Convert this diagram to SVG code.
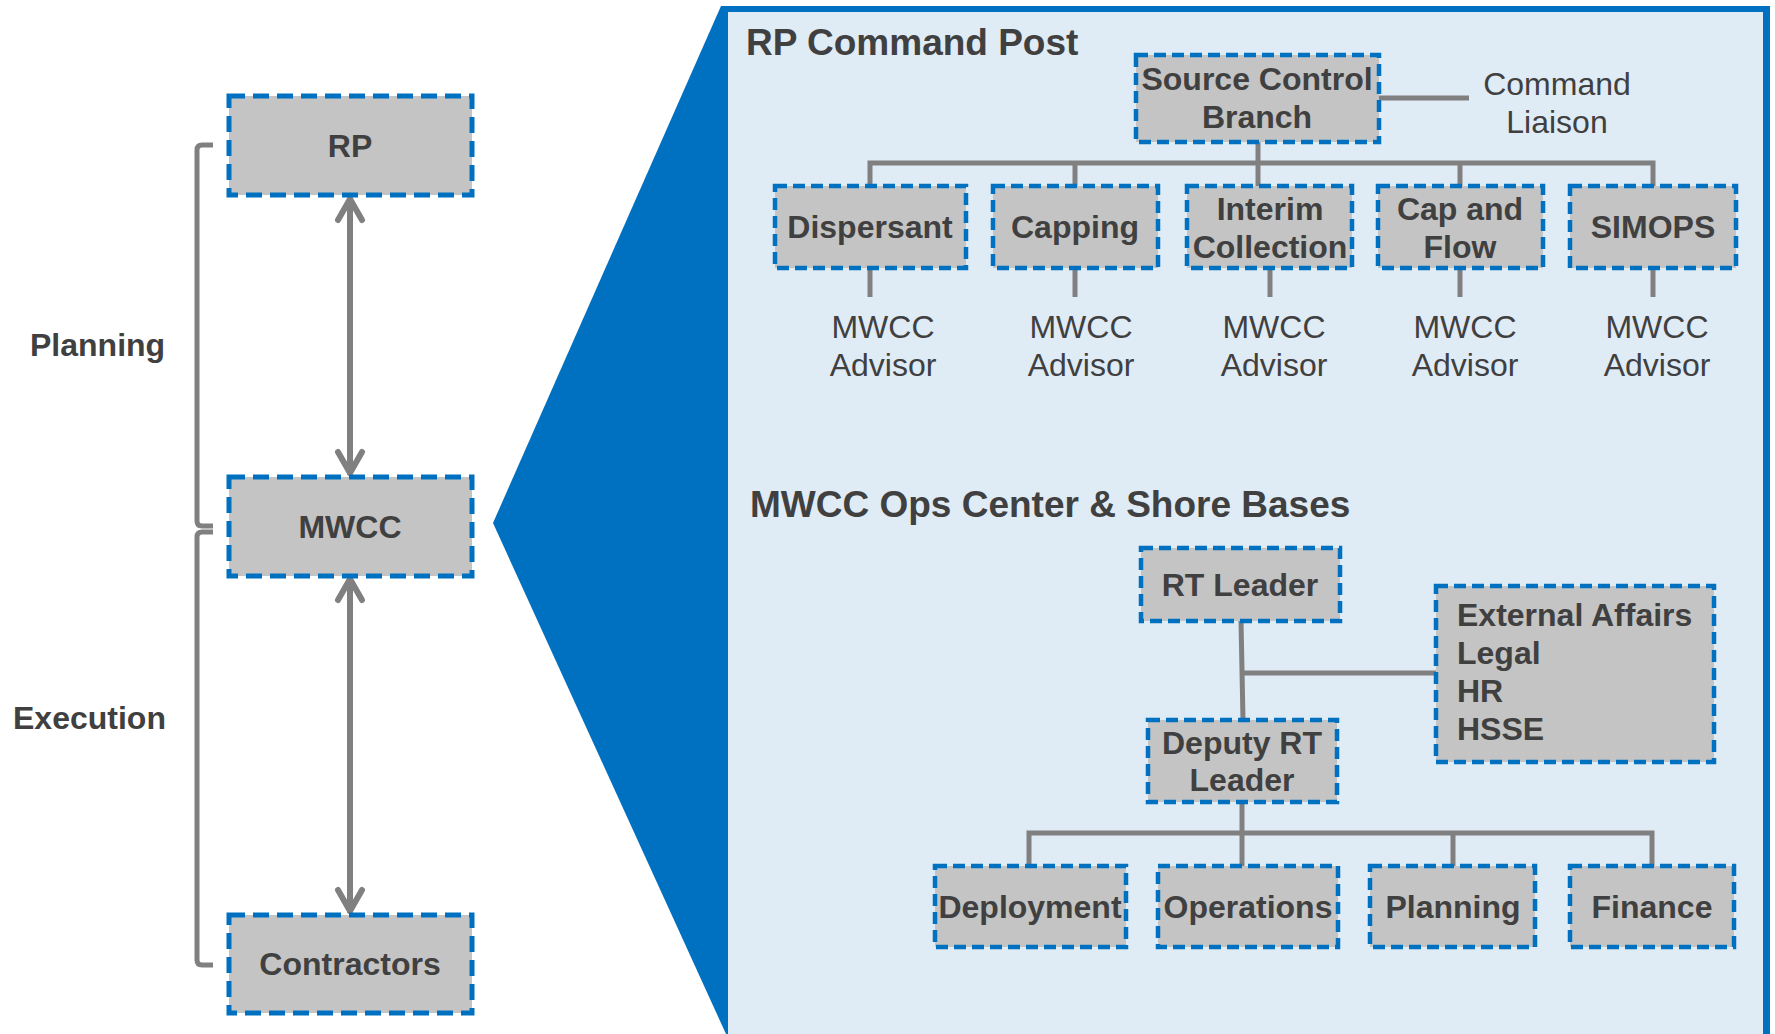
<svg xmlns="http://www.w3.org/2000/svg" width="1775" height="1034" viewBox="0 0 1775 1034">
<style>
.box{fill:#C4C4C4;stroke:#0070C0;stroke-width:4.5;stroke-dasharray:12 6}
.boxL{fill:#C4C4C4;stroke:#0070C0;stroke-width:5;stroke-dasharray:16 8}
.lbl{font-family:"Liberation Sans",Arial,sans-serif;font-weight:bold;font-size:32px;fill:#404040;text-anchor:middle}
.lblL{font-family:"Liberation Sans",Arial,sans-serif;font-weight:bold;font-size:32px;fill:#404040}
.reg{font-family:"Liberation Sans",Arial,sans-serif;font-size:32px;fill:#404040;text-anchor:middle}
.title{font-family:"Liberation Sans",Arial,sans-serif;font-weight:bold;font-size:37px;fill:#404040}
.con{fill:none;stroke:#808080;stroke-width:5}
.arr{fill:none;stroke:#808080;stroke-width:6;stroke-linecap:round}
.brk{fill:none;stroke:#808080;stroke-width:5}
</style>
<defs>
<marker id="chev" viewBox="0 0 24 28" markerWidth="24" markerHeight="28" refX="21" refY="14" orient="auto-start-reverse" markerUnits="userSpaceOnUse" overflow="visible">
<path d="M 0 2 L 21 14 L 0 26" fill="none" stroke="#808080" stroke-width="6" stroke-linecap="round" stroke-linejoin="round"/>
</marker>
</defs>
<rect width="1775" height="1034" fill="#FFFFFF"/>
<g id="panel">
<polygon points="721,6 1770,6 1770,1034 726,1034 493,523" fill="#0070C0"/>
<rect x="728" y="12" width="1035" height="1030" fill="#DFEBF5"/>
<text class="title" x="746" y="55">RP Command Post</text>
<text class="title" x="750" y="517">MWCC Ops Center &amp; Shore Bases</text>
</g>
<g id="connectors">
<line class="arr" x1="350" y1="199" x2="350" y2="473" marker-start="url(#chev)" marker-end="url(#chev)"/>
<line class="arr" x1="350" y1="579" x2="350" y2="911" marker-start="url(#chev)" marker-end="url(#chev)"/>
<path class="brk" d="M 213 145 L 202 145 Q 197 145 197 150 L 197 521 Q 197 526 202 526 L 213 526"/>
<path class="brk" d="M 213 532 L 202 532 Q 197 532 197 537 L 197 960 Q 197 965 202 965 L 213 965"/>
<line class="con" x1="1379" y1="98" x2="1469" y2="98"/>
<line class="con" x1="1258" y1="142" x2="1258" y2="186"/>
<path class="con" d="M 870 186 V 163 H 1653 V 186"/>
<line class="con" x1="1075" y1="163" x2="1075" y2="186"/>
<line class="con" x1="1460" y1="163" x2="1460" y2="186"/>
<line class="con" x1="870" y1="268" x2="870" y2="297"/>
<line class="con" x1="1075" y1="268" x2="1075" y2="297"/>
<line class="con" x1="1270" y1="268" x2="1270" y2="297"/>
<line class="con" x1="1460" y1="268" x2="1460" y2="297"/>
<line class="con" x1="1653" y1="268" x2="1653" y2="297"/>
<line class="con" x1="1241" y1="621" x2="1243" y2="720"/>
<line class="con" x1="1241" y1="673" x2="1436" y2="673"/>
<line class="con" x1="1242" y1="802" x2="1242" y2="866"/>
<path class="con" d="M 1029 866 V 833 H 1652 V 866"/>
<line class="con" x1="1453" y1="833" x2="1453" y2="866"/>
</g>
<g id="label-planning"><text class="lblL" x="30" y="356">Planning</text></g>
<g id="label-execution"><text class="lblL" x="13" y="729">Execution</text></g>
<g id="node-rp"><rect class="boxL" x="229" y="96" width="243" height="99"/><text class="lbl" x="350" y="157">RP</text></g>
<g id="node-mwcc"><rect class="boxL" x="229" y="477" width="243" height="99"/><text class="lbl" x="350" y="538">MWCC</text></g>
<g id="node-contractors"><rect class="boxL" x="229" y="915" width="243" height="98"/><text class="lbl" x="350" y="975">Contractors</text></g>
<g id="node-scb"><rect class="box" x="1136" y="55" width="243" height="87"/><text class="lbl" x="1257" y="90">Source Control</text><text class="lbl" x="1257" y="128">Branch</text></g>
<g id="label-liaison"><text class="reg" x="1557" y="95">Command</text><text class="reg" x="1557" y="133">Liaison</text></g>
<g id="node-dispersant"><rect class="box" x="775" y="186" width="191" height="82"/><text class="lbl" x="870" y="238">Dispersant</text></g>
<g id="node-capping"><rect class="box" x="993" y="186" width="165" height="82"/><text class="lbl" x="1075" y="238">Capping</text></g>
<g id="node-interim"><rect class="box" x="1187" y="186" width="165" height="82"/><text class="lbl" x="1270" y="220">Interim</text><text class="lbl" x="1270" y="258">Collection</text></g>
<g id="node-capflow"><rect class="box" x="1378" y="186" width="165" height="82"/><text class="lbl" x="1460" y="220">Cap and</text><text class="lbl" x="1460" y="258">Flow</text></g>
<g id="node-simops"><rect class="box" x="1570" y="186" width="166" height="82"/><text class="lbl" x="1653" y="238">SIMOPS</text></g>
<g id="advisor-1"><text class="reg" x="883" y="338">MWCC</text><text class="reg" x="883" y="376">Advisor</text></g>
<g id="advisor-2"><text class="reg" x="1081" y="338">MWCC</text><text class="reg" x="1081" y="376">Advisor</text></g>
<g id="advisor-3"><text class="reg" x="1274" y="338">MWCC</text><text class="reg" x="1274" y="376">Advisor</text></g>
<g id="advisor-4"><text class="reg" x="1465" y="338">MWCC</text><text class="reg" x="1465" y="376">Advisor</text></g>
<g id="advisor-5"><text class="reg" x="1657" y="338">MWCC</text><text class="reg" x="1657" y="376">Advisor</text></g>
<g id="node-rtleader"><rect class="box" x="1141" y="548" width="199" height="73"/><text class="lbl" x="1240" y="596">RT Leader</text></g>
<g id="node-external"><rect class="box" x="1436" y="586" width="278" height="176"/><text class="lblL" x="1457" y="626">External Affairs</text><text class="lblL" x="1457" y="664">Legal</text><text class="lblL" x="1457" y="702">HR</text><text class="lblL" x="1457" y="740">HSSE</text></g>
<g id="node-deputy"><rect class="box" x="1148" y="720" width="189" height="82"/><text class="lbl" x="1242" y="754">Deputy RT</text><text class="lbl" x="1242" y="791">Leader</text></g>
<g id="node-deployment"><rect class="box" x="935" y="866" width="191" height="81"/><text class="lbl" x="1030" y="918">Deployment</text></g>
<g id="node-operations"><rect class="box" x="1158" y="866" width="180" height="81"/><text class="lbl" x="1248" y="918">Operations</text></g>
<g id="node-planning"><rect class="box" x="1370" y="866" width="165" height="81"/><text class="lbl" x="1453" y="918">Planning</text></g>
<g id="node-finance"><rect class="box" x="1570" y="866" width="164" height="81"/><text class="lbl" x="1652" y="918">Finance</text></g>
</svg>
